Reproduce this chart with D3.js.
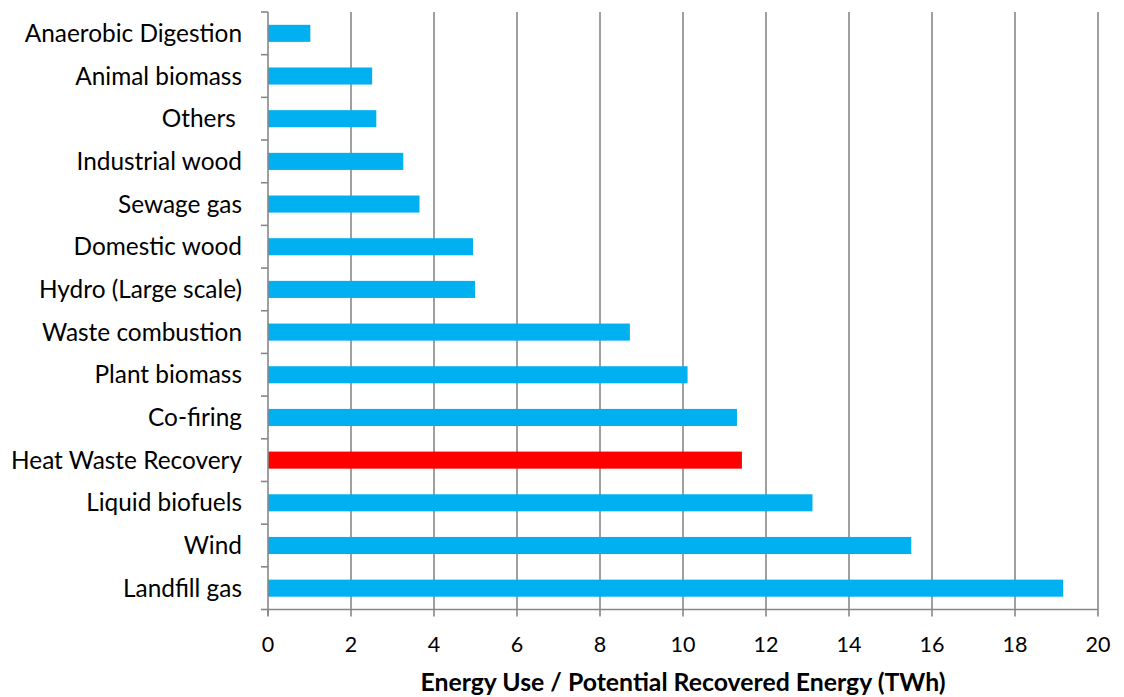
<!DOCTYPE html>
<html>
<head>
<meta charset="utf-8">
<script src="https://d3js.org/d3.v7.min.js"></script>
<style>
  html, body { margin: 0; padding: 0; background: #fff; }
  svg text { font-family: Lato, "Open Sans", sans-serif; fill: #000; }
</style>
</head>
<body>
<svg id="chart" width="1124" height="697"></svg>
<script>
// Energy sources, top to bottom
const categories = [
  "Anaerobic Digestion", "Animal biomass", "Others ", "Industrial wood",
  "Sewage gas", "Domestic wood", "Hydro (Large scale)", "Waste combustion",
  "Plant biomass", "Co-firing", "Heat Waste Recovery", "Liquid biofuels",
  "Wind", "Landfill gas"
];
const values = [1.02, 2.51, 2.61, 3.26, 3.65, 4.94, 4.99, 8.72, 10.11, 11.30, 11.42, 13.12, 15.5, 19.16];
const highlighted = ["Heat Waste Recovery"];
const xTicks = [0, 2, 4, 6, 8, 10, 12, 14, 16, 18, 20];
const xTitle = "Energy Use / Potential Recovered Energy (TWh)";

const svg = d3.select("#chart");
const plotLeft = 268, plotRight = 1098, plotTop = 12, plotBottom = 609.5;

const x = d3.scaleLinear().domain([0, 20]).range([plotLeft, plotRight]);
const y = d3.scaleBand().domain(categories).range([plotTop, plotBottom]).paddingInner(0.6).paddingOuter(0.3);
const band = d3.scaleBand().domain(categories).range([plotTop, plotBottom]);

const grey = "#878787";

// vertical gridlines
svg.append("g").selectAll("line").data(xTicks.slice(1)).join("line")
  .attr("x1", d => x(d)).attr("x2", d => x(d))
  .attr("y1", plotTop).attr("y2", plotBottom)
  .attr("stroke", grey).attr("stroke-width", 1.6);

// bars
svg.append("g").selectAll("rect").data(categories).join("rect")
  .attr("x", x(0))
  .attr("y", d => y(d))
  .attr("width", (d, i) => x(values[i]) - x(0))
  .attr("height", y.bandwidth())
  .attr("fill", d => highlighted.includes(d) ? "#FF0000" : "#00B0F0");

// category axis: line, band-edge ticks
const yAxis = svg.append("g");
yAxis.append("line").attr("x1", plotLeft).attr("x2", plotLeft).attr("y1", plotTop).attr("y2", plotBottom + 6)
  .attr("stroke", grey).attr("stroke-width", 1.6);
const edges = categories.map(c => band(c)).concat([plotBottom]);
yAxis.selectAll("line.tick").data(edges).join("line").attr("class", "tick")
  .attr("x1", plotLeft - 7).attr("x2", plotLeft).attr("y1", d => d).attr("y2", d => d)
  .attr("stroke", grey).attr("stroke-width", 1.6);
yAxis.selectAll("text").data(categories).join("text")
  .attr("x", 242)
  .attr("y", d => band(d) + band.bandwidth() / 2 + 8.5)
  .attr("text-anchor", "end")
  .attr("font-size", 24.4)
  .style("white-space", "pre")
  .text(d => d);

// value axis
const xAxis = svg.append("g");
xAxis.append("line").attr("x1", plotLeft).attr("x2", plotRight).attr("y1", plotBottom).attr("y2", plotBottom)
  .attr("stroke", grey).attr("stroke-width", 1.6);
xAxis.selectAll("line.tick").data(xTicks).join("line").attr("class", "tick")
  .attr("x1", d => x(d)).attr("x2", d => x(d)).attr("y1", plotBottom).attr("y2", plotBottom + 7)
  .attr("stroke", grey).attr("stroke-width", 1.6);
xAxis.selectAll("text").data(xTicks).join("text")
  .attr("x", d => x(d))
  .attr("y", 652)
  .attr("text-anchor", "middle")
  .attr("font-size", 21.5)
  .text(d => d);

svg.append("text")
  .attr("x", 683).attr("y", 691)
  .attr("text-anchor", "middle")
  .attr("font-size", 24.8)
  .attr("font-weight", "bold")
  .text(xTitle);
</script>
</body>
</html>
